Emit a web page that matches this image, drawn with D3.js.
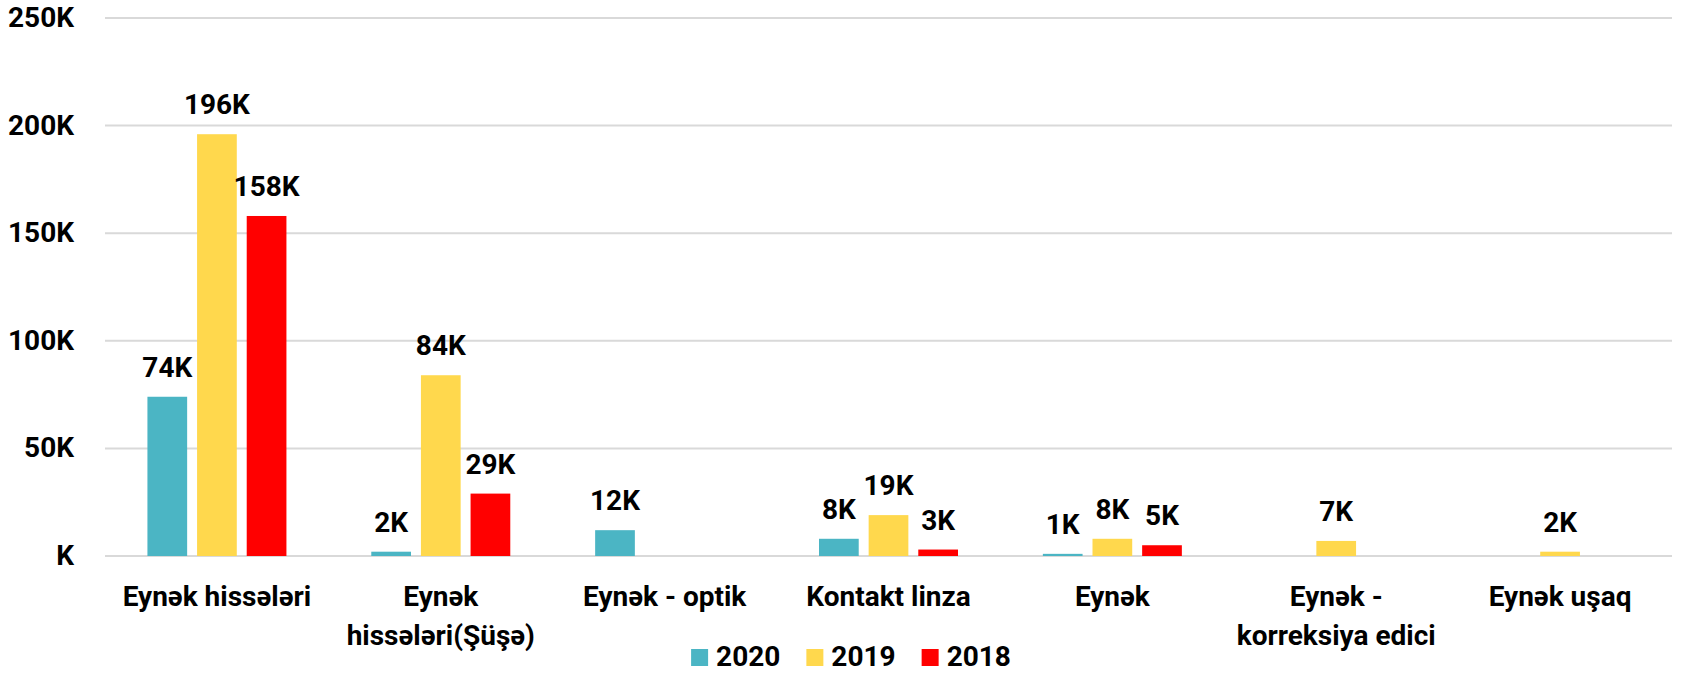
<!DOCTYPE html>
<html>
<head>
<meta charset="utf-8">
<script src="https://cdn.jsdelivr.net/npm/d3@7"></script>
<style>
  html, body { margin: 0; padding: 0; background: #fff; }
  text { font-family: Roboto, "Noto Sans", sans-serif; font-weight: bold; fill: #000; }
</style>
</head>
<body>
<div class="chart_area"></div>
<script>
var categories = ["Eynək hissələri", "Eynək hissələri(Şüşə)", "Eynək - optik", "Kontakt linza",
                  "Eynək", "Eynək - korreksiya edici", "Eynək uşaq"];
var years = ["2020", "2019", "2018"];
var values2020 = [74, 2, 12, 8, 1, null, null];
var values2019 = [196, 84, null, 19, 8, 7, 2];
var values2018 = [158, 29, null, 3, 5, null, null];
var yTicks = [0, 50, 100, 150, 200, 250];
var colorList = ["#4bb5c4", "#ffd84d", "#ff0000"];

var width = 1692, height = 673;
var margin = { top: 18, right: 20, bottom: 117, left: 105 };
var fontSize = "28px";

var svg = d3.select(".chart_area")
    .append("svg")
    .attr("width", width)
    .attr("height", height);

var x0 = d3.scaleBand()
    .domain(categories)
    .range([margin.left, width - margin.right]);

var x1 = d3.scaleBand()
    .domain(years)
    .range([0, 139])
    .paddingInner(0.2);

var y = d3.scaleLinear()
    .domain([0, 250])
    .range([height - margin.bottom, margin.top]);

var color = d3.scaleOrdinal().domain(years).range(colorList);

// gridlines
svg.append("g")
    .selectAll("line")
    .data(yTicks)
    .enter()
    .append("line")
    .attr("x1", margin.left)
    .attr("x2", width - margin.right)
    .attr("y1", function(d){ return y(d); })
    .attr("y2", function(d){ return y(d); })
    .style("stroke", "#d9d9d9")
    .style("stroke-width", 2);

// y axis labels
var yAxis = svg.append("g")
    .attr("transform", "translate(74,0)")
    .call(d3.axisLeft(y).tickValues(yTicks).tickSize(0).tickPadding(0)
        .tickFormat(function(d){ return d === 0 ? "K" : d + "K"; }));
yAxis.select(".domain").remove();
yAxis.selectAll("text")
    .attr("dy", "0.3em")
    .style("font-size", fontSize)
    .style("font-family", "Roboto, sans-serif")
    .style("font-weight", "bold")
    .style("fill", "#000");

// bars
var rows = [];
categories.forEach(function(c, i){
    var vals = [values2020[i], values2019[i], values2018[i]];
    years.forEach(function(yr, j){
        if (vals[j] !== null) rows.push({ cat: c, year: yr, value: vals[j] });
    });
});

function barX(d){
    return x0(d.cat) + x0.bandwidth() / 2 - 69.5 + x1(d.year);
}

svg.append("g")
    .selectAll("rect")
    .data(rows)
    .enter()
    .append("rect")
    .attr("x", barX)
    .attr("y", function(d){ return y(d.value); })
    .attr("width", x1.bandwidth())
    .attr("height", function(d){ return y(0) - y(d.value); })
    .attr("fill", function(d){ return color(d.year); });

// value labels
svg.append("g")
    .selectAll("text")
    .data(rows)
    .enter()
    .append("text")
    .attr("x", function(d){ return barX(d) + x1.bandwidth() / 2; })
    .attr("y", function(d){ return y(d.value) - 20; })
    .attr("text-anchor", "middle")
    .style("font-size", fontSize)
    .text(function(d){ return d.value + "K"; });

// x axis category labels (wrapped)
var xLab = svg.append("g")
    .selectAll("text")
    .data(categories)
    .enter()
    .append("text")
    .attr("x", function(d){ return x0(d) + x0.bandwidth() / 2; })
    .attr("y", 606)
    .attr("text-anchor", "middle")
    .style("font-size", fontSize);

xLab.each(function(d){
    var t = d3.select(this);
    var words = d.split(" ");
    var line = [];
    var tspan = t.append("tspan").attr("x", t.attr("x")).attr("dy", 0);
    words.forEach(function(w){
        line.push(w);
        tspan.text(line.join(" "));
        if (tspan.node().getComputedTextLength() > x0.bandwidth() - 4 && line.length > 1) {
            line.pop();
            tspan.text(line.join(" "));
            line = [w];
            tspan = t.append("tspan").attr("x", t.attr("x")).attr("dy", 39).text(w);
        }
    });
});

// legend
var legend = svg.append("g");
var lx = 0;
years.forEach(function(yr){
    var item = legend.append("g").attr("transform", "translate(" + lx + ",0)");
    item.append("rect")
        .attr("x", 0).attr("y", 649)
        .attr("width", 17).attr("height", 17)
        .attr("fill", color(yr));
    var t = item.append("text")
        .attr("x", 25).attr("y", 666)
        .style("font-size", fontSize)
        .text(yr);
    lx += 25 + t.node().getComputedTextLength() + 26;
});
var legendW = lx - 26;
legend.attr("transform", "translate(" + (851 - legendW / 2) + ",0)");
</script>
</body>
</html>
